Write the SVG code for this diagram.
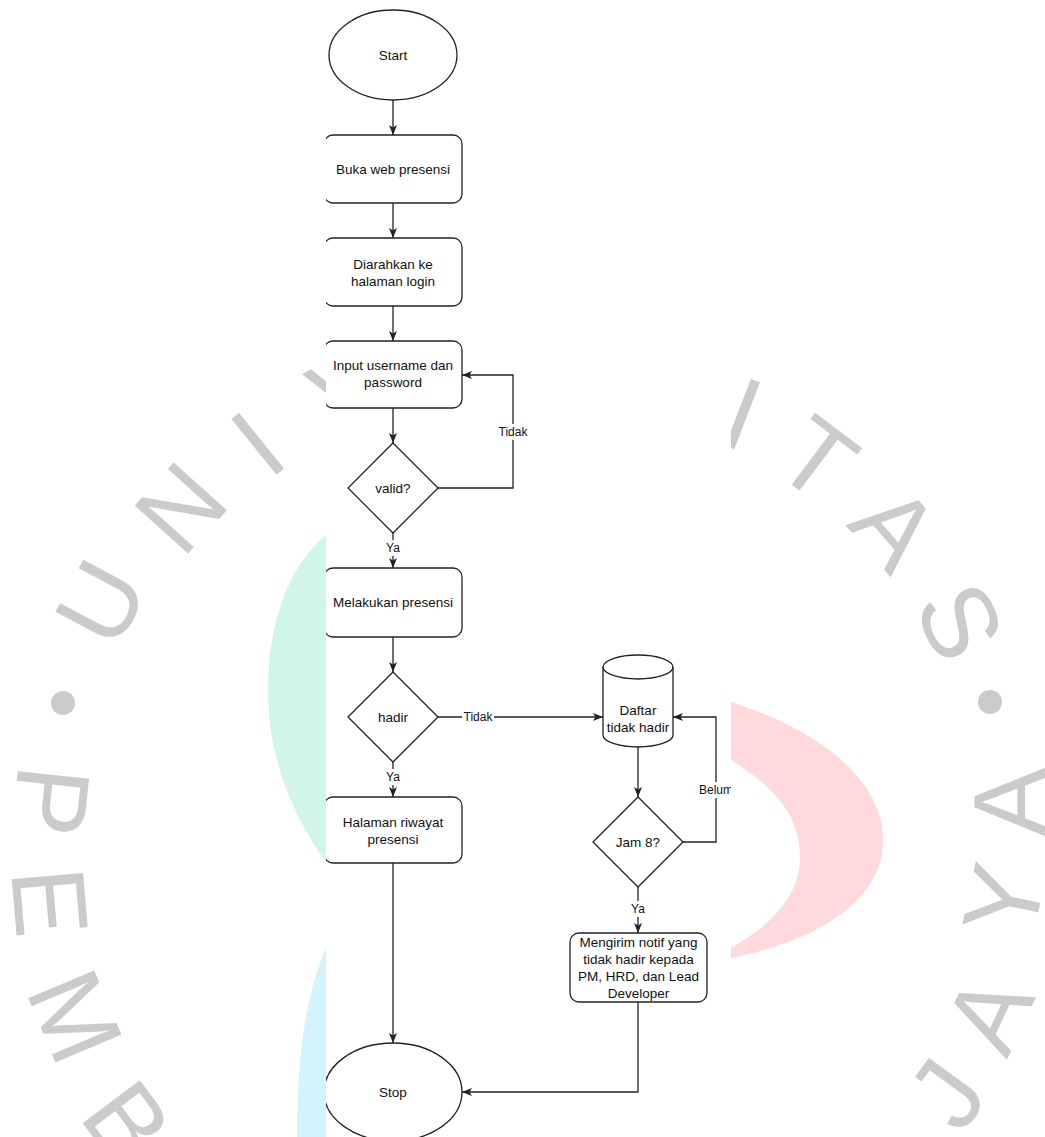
<svg xmlns="http://www.w3.org/2000/svg" width="1045" height="1137" viewBox="0 0 1045 1137">
  <style>
    .wm { font-family: "Liberation Sans", Arial, sans-serif; font-size: 104px; fill: #cbcbcb; text-anchor: middle; }
    .node { fill: #ffffff; stroke: #222222; stroke-width: 1.3; }
    .edge { fill: none; stroke: #222222; stroke-width: 1.3; }
    .txt { font-family: "Liberation Sans", Arial, sans-serif; font-size: 13.5px; fill: #111111; text-anchor: middle; }
    .etxt { font-family: "Liberation Sans", Arial, sans-serif; font-size: 12px; fill: #111111; text-anchor: middle; }
    .lblbg { fill: #ffffff; }
  </style>
  <defs>
    <marker id="arrow" viewBox="0 0 10 10" refX="10" refY="5" markerWidth="10" markerHeight="10" markerUnits="userSpaceOnUse" orient="auto">
      <path d="M0,1 L10,5 L0,9 L2.5,5 Z" fill="#222222"/>
    </marker>
    <clipPath id="sheet">
      <rect x="326" y="0" width="405" height="1137"/>
    </clipPath>
  </defs>

  <rect width="1045" height="1137" fill="#ffffff"/>

  <!-- background seal: colored arcs and lettering around a circle -->
  <g id="watermark">
    <path d="M326,535 C290,565 268,620 268,690 C268,760 295,820 326,862 Z" fill="#d1f5e9"/>
    <path d="M326,948 C310,985 297,1040 297,1137 L326,1137 Z" fill="#d3f4fc"/>
    <path d="M731,702 C820,730 883,780 883,840 C883,900 820,940 731,958 L731,948 C780,920 800,890 800,857 C800,820 780,790 731,760 Z" fill="#fedadd"/>
    <circle cx="63" cy="703" r="12" fill="#cbcbcb"/>
    <circle cx="990" cy="702" r="12" fill="#cbcbcb"/>
    <text class="wm" transform="translate(100,602) rotate(-62)" y="37">U</text>
    <text class="wm" transform="translate(180,507) rotate(-48)" y="37">N</text>
    <text class="wm" transform="translate(257,443) rotate(-39)" y="37">I</text>
    <text class="wm" transform="translate(349,387) rotate(-30)" y="37">V</text>
    <text class="wm" transform="translate(743,413) rotate(21)" y="37">I</text>
    <text class="wm" transform="translate(818,458) rotate(37)" y="37">T</text>
    <text class="wm" transform="translate(896,527) rotate(49)" y="37">A</text>
    <text class="wm" transform="translate(961,621) rotate(65)" y="37">S</text>
    <text class="wm" transform="translate(52,801) rotate(96)" y="37">P</text>
    <text class="wm" transform="translate(51,902) rotate(85)" y="37">E</text>
    <text class="wm" transform="translate(76,1016) rotate(67)" y="37">M</text>
    <text class="wm" transform="translate(128,1122) rotate(53)" y="37">B</text>
    <text class="wm" transform="translate(946,1093) rotate(-54)" y="37">J</text>
    <text class="wm" transform="translate(988,1013) rotate(-65)" y="37">A</text>
    <text class="wm" transform="translate(1003,900) rotate(-78)" y="37">Y</text>
    <text class="wm" transform="translate(1009,802) rotate(-90)" y="37">A</text>
  </g>

  <!-- flowchart sheet -->
  <rect x="326" y="0" width="405" height="1137" fill="#ffffff"/>

  <g clip-path="url(#sheet)">
    <g id="connectors">
      <path class="edge" d="M393,100 L393,135" marker-end="url(#arrow)"/>
      <path class="edge" d="M393,203 L393,238" marker-end="url(#arrow)"/>
      <path class="edge" d="M393,306 L393,341" marker-end="url(#arrow)"/>
      <path class="edge" d="M393,408 L393,443" marker-end="url(#arrow)"/>
      <path class="edge" d="M438,488 L513,488 L513,375 L462,375" marker-end="url(#arrow)"/>
      <path class="edge" d="M393,533 L393,568" marker-end="url(#arrow)"/>
      <path class="edge" d="M393,637 L393,672" marker-end="url(#arrow)"/>
      <path class="edge" d="M438,717 L603,717" marker-end="url(#arrow)"/>
      <path class="edge" d="M393,762 L393,797" marker-end="url(#arrow)"/>
      <path class="edge" d="M393,863 L393,1043" marker-end="url(#arrow)"/>
      <path class="edge" d="M638,747 L638,797" marker-end="url(#arrow)"/>
      <path class="edge" d="M683,842 L716,842 L716,717 L673,717" marker-end="url(#arrow)"/>
      <path class="edge" d="M638,887 L638,933" marker-end="url(#arrow)"/>
      <path class="edge" d="M638,1002 L638,1092 L462,1092" marker-end="url(#arrow)"/>

      <rect class="lblbg" x="497" y="424" width="32" height="16"/>
      <text class="etxt" x="513" y="436.3">Tidak</text>
      <rect class="lblbg" x="385" y="540" width="16" height="16"/>
      <text class="etxt" x="393" y="552.3">Ya</text>
      <rect class="lblbg" x="462" y="709" width="32" height="16"/>
      <text class="etxt" x="478" y="721.3">Tidak</text>
      <rect class="lblbg" x="385" y="769" width="16" height="16"/>
      <text class="etxt" x="393" y="781.3">Ya</text>
      <rect class="lblbg" x="698" y="782" width="38" height="16"/>
      <text class="etxt" x="716" y="794.3">Belum</text>
      <rect class="lblbg" x="630" y="901" width="16" height="16"/>
      <text class="etxt" x="638" y="913.3">Ya</text>
    </g>

    <g id="start">
      <ellipse class="node" cx="393" cy="55" rx="64" ry="45"/>
      <text class="txt" x="393" y="60">Start</text>
    </g>
    <g id="buka-web">
      <rect class="node" x="324" y="135" width="138" height="68" rx="9"/>
      <text class="txt" x="393" y="174">Buka web presensi</text>
    </g>
    <g id="halaman-login">
      <rect class="node" x="324" y="238" width="138" height="68" rx="9"/>
      <text class="txt" x="393" y="268.5">Diarahkan ke</text>
      <text class="txt" x="393" y="285.5">halaman login</text>
    </g>
    <g id="input-login">
      <rect class="node" x="324" y="341" width="138" height="67" rx="9"/>
      <text class="txt" x="393" y="370">Input username dan</text>
      <text class="txt" x="393" y="387">password</text>
    </g>
    <g id="valid">
      <path class="node" d="M393,443 L438,488 L393,533 L348,488 Z"/>
      <text class="txt" x="393" y="493">valid?</text>
    </g>
    <g id="presensi">
      <rect class="node" x="324" y="568" width="138" height="69" rx="9"/>
      <text class="txt" x="393" y="607">Melakukan presensi</text>
    </g>
    <g id="hadir">
      <path class="node" d="M393,672 L438,717 L393,762 L348,717 Z"/>
      <text class="txt" x="393" y="722">hadir</text>
    </g>
    <g id="riwayat">
      <rect class="node" x="324" y="797" width="138" height="66" rx="9"/>
      <text class="txt" x="393" y="826.5">Halaman riwayat</text>
      <text class="txt" x="393" y="843.5">presensi</text>
    </g>
    <g id="daftar-tidak-hadir">
      <path class="node" d="M603,667 A35,12 0 0 1 673,667 L673,735 A35,12 0 0 1 603,735 Z"/>
      <path class="edge" d="M603,667 A35,12 0 0 0 673,667"/>
      <text class="txt" x="638" y="715">Daftar</text>
      <text class="txt" x="638" y="732">tidak hadir</text>
    </g>
    <g id="jam8">
      <path class="node" d="M638,797 L683,842 L638,887 L593,842 Z"/>
      <text class="txt" x="638" y="847">Jam 8?</text>
    </g>
    <g id="kirim-notif">
      <rect class="node" x="570" y="933" width="137" height="69" rx="9"/>
      <text class="txt" x="638.5" y="947">Mengirim notif yang</text>
      <text class="txt" x="638.5" y="964">tidak hadir kepada</text>
      <text class="txt" x="638.5" y="981">PM, HRD, dan Lead</text>
      <text class="txt" x="638.5" y="998">Developer</text>
    </g>
    <g id="stop">
      <ellipse class="node" cx="393" cy="1092" rx="69" ry="49"/>
      <text class="txt" x="393" y="1097">Stop</text>
    </g>
  </g>
</svg>
